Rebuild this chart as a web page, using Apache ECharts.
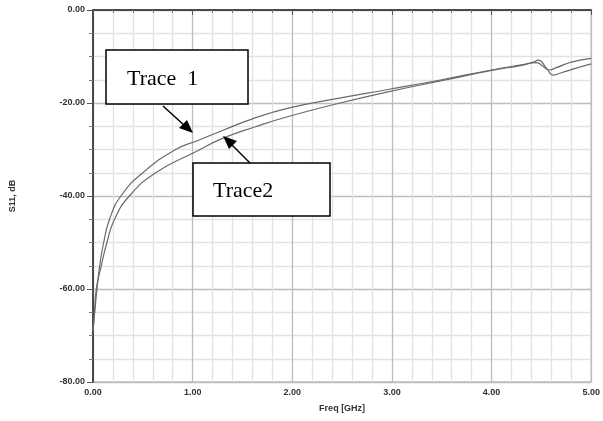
<!DOCTYPE html>
<html>
<head>
<meta charset="utf-8">
<script src="https://cdn.jsdelivr.net/npm/echarts@6/dist/echarts.min.js"></script>
<style>
  html, body { margin: 0; padding: 0; background: #fff; }
  #chart { width: 603px; height: 421px; }
</style>
</head>
<body>
<div id="chart"></div>
<script>
// frequency [GHz] / S11 [dB]
const trace1Freq = [0, 0.017, 0.04, 0.067, 0.107, 0.166, 0.28, 0.5, 0.83, 1.06, 1.3, 1.6, 1.96, 2.46, 2.96, 3.5, 4.0, 4.3, 4.45, 4.52, 4.58, 4.65, 4.8, 5.0];
const trace1Db = [-69, -65, -60, -55, -50, -45, -40, -35, -30, -28, -25.9, -23.4, -21.1, -19, -17.1, -15, -12.9, -11.8, -11.3, -12.2, -12.9, -12.4, -11.2, -10.4];
const trace2Freq = [0, 0.015, 0.033, 0.083, 0.14, 0.216, 0.365, 0.63, 1.03, 1.3, 1.63, 1.96, 2.46, 2.96, 3.5, 4.0, 4.3, 4.42, 4.47, 4.55, 4.62, 4.7, 4.85, 5.0];
const trace2Db = [-69, -65, -60, -55, -50, -45, -40, -35, -30.5, -27.6, -25.1, -22.9, -20.1, -17.6, -15.2, -13, -11.9, -11.2, -10.8, -12.5, -14, -13.5, -12.5, -11.6];

const pairs = (xs, ys) => xs.map((x, i) => [x, ys[i]]);

const chart = echarts.init(document.getElementById('chart'));

const labelStyle = { color: '#333', fontFamily: 'Liberation Sans, Arial', fontWeight: 'bold', fontSize: 9 };

chart.setOption({
  animation: false,
  grid: { left: 93, right: 8, top: 10, bottom: 39, show: true, borderColor: '#999', borderWidth: 1 },
  xAxis: {
    type: 'value', min: 0, max: 5, interval: 1,
    name: 'Freq [GHz]', nameLocation: 'middle', nameGap: 22,
    nameTextStyle: labelStyle,
    axisLine: { lineStyle: { color: '#222', width: 1.5 } },
    axisTick: { show: true, length: 5, lineStyle: { color: '#555' } },
    minorTick: { show: true, splitNumber: 5, length: 3, lineStyle: { color: '#777' } },
    axisLabel: { ...labelStyle, margin: 6, formatter: v => v.toFixed(2) },
    splitLine: { lineStyle: { color: '#bdbdbd', width: 1.3 } },
    minorSplitLine: { show: true, lineStyle: { color: '#e2e2e2', width: 1.3 } }
  },
  yAxis: {
    type: 'value', min: -80, max: 0, interval: 20,
    name: 'S11, dB', nameLocation: 'middle', nameGap: 76, nameRotate: 90,
    nameTextStyle: labelStyle,
    axisLine: { show: true, lineStyle: { color: '#222', width: 1.5 } },
    axisTick: { show: true, length: 6, lineStyle: { color: '#555' } },
    minorTick: { show: true, splitNumber: 4, length: 4, lineStyle: { color: '#777' } },
    axisLabel: { ...labelStyle, margin: 8, formatter: v => v.toFixed(2) },
    splitLine: { lineStyle: { color: '#bdbdbd', width: 1.3 } },
    minorSplitLine: { show: true, lineStyle: { color: '#e2e2e2', width: 1.3 } }
  },
  series: [
    { name: 'Trace 1', type: 'line', smooth: 0.5, showSymbol: false, data: pairs(trace1Freq, trace1Db),
      lineStyle: { color: '#6a6a6a', width: 1.2 } },
    { name: 'Trace2', type: 'line', smooth: 0.5, showSymbol: false, data: pairs(trace2Freq, trace2Db),
      lineStyle: { color: '#6a6a6a', width: 1.2 } }
  ],
  graphic: [
    { type: 'rect', shape: { x: 106, y: 50, width: 142, height: 54 }, style: { fill: '#fff', stroke: '#000', lineWidth: 1.5 }, z: 100 },
    { type: 'text', x: 127, y: 79, style: { text: 'Trace  1', font: '22px "Liberation Serif", "Times New Roman"', fill: '#000', textVerticalAlign: 'middle' }, z: 101 },
    { type: 'rect', shape: { x: 193, y: 163, width: 137, height: 53 }, style: { fill: '#fff', stroke: '#000', lineWidth: 1.5 }, z: 100 },
    { type: 'text', x: 213, y: 191, style: { text: 'Trace2', font: '22px "Liberation Serif", "Times New Roman"', fill: '#000', textVerticalAlign: 'middle' }, z: 101 },
    { type: 'line', shape: { x1: 163, y1: 106, x2: 185, y2: 126 }, style: { stroke: '#000', lineWidth: 1.5 }, z: 100 },
    { type: 'polygon', shape: { points: [[193, 133], [179, 128], [187, 120]] }, style: { fill: '#000' }, z: 100 },
    { type: 'line', shape: { x1: 250, y1: 163, x2: 230, y2: 143 }, style: { stroke: '#000', lineWidth: 1.5 }, z: 100 },
    { type: 'polygon', shape: { points: [[223, 136], [237, 141], [229, 149]] }, style: { fill: '#000' }, z: 100 }
  ]
});
</script>
</body>
</html>
